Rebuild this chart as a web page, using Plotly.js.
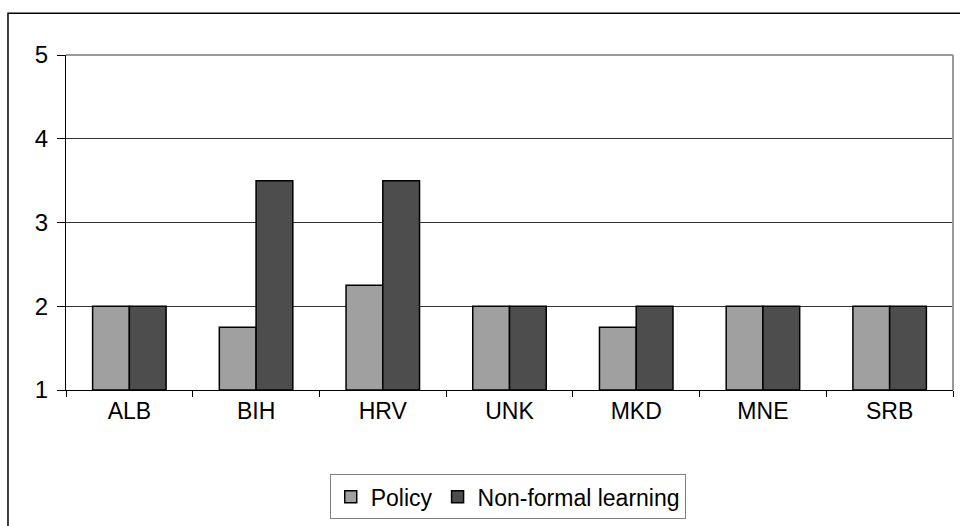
<!DOCTYPE html>
<html>
<head>
<meta charset="utf-8">
<script src="https://cdn.plot.ly/plotly-3.0.1.min.js"></script>
<style>html,body{margin:0;padding:0;background:#fff;}#chart{width:960px;height:526px;}</style>
</head>
<body>
<div id="chart"></div>
<script>
const categories = ["ALB", "BIH", "HRV", "UNK", "MKD", "MNE", "SRB"];
const policy = [2, 1.75, 2.25, 2, 1.75, 2, 2];
const nonFormal = [2, 3.5, 3.5, 2, 2, 2, 2];
const seriesNames = ["Policy", "Non-formal learning"];
const yTicks = [1, 2, 3, 4, 5];

const font = {family: "Liberation Sans, Arial, sans-serif", color: "#000"};
const traces = [
  {type: "bar", name: seriesNames[0], x: categories, y: policy.map(v => v - 1), base: 1,
   marker: {color: "#a0a0a0", line: {color: "#000", width: 1.5}}, hoverinfo: "skip"},
  {type: "bar", name: seriesNames[1], x: categories, y: nonFormal.map(v => v - 1), base: 1,
   marker: {color: "#4d4d4d", line: {color: "#000", width: 1.5}}, hoverinfo: "skip"}
];
const layout = {
  width: 960, height: 526,
  margin: {l: 66, r: 7, t: 55, b: 134},
  paper_bgcolor: "#fff", plot_bgcolor: "#fff",
  barmode: "group", bargap: 0.42, bargroupgap: 0,
  font: Object.assign({size: 23}, font),
  showlegend: true,
  legend: {orientation: "h", x: 0.498, xanchor: "center", y: -0.252, yanchor: "top",
           bgcolor: "#fff", bordercolor: "#808080", borderwidth: 1,
           font: Object.assign({size: 23}, font), itemwidth: 30, tracegroupgap: 0},
  xaxis: {type: "category", showline: true, linecolor: "#000", linewidth: 1,
          ticks: "outside", tickson: "boundaries", ticklen: 6, tickcolor: "#000",
          showgrid: false, tickfont: Object.assign({size: 23}, font), fixedrange: true,
          automargin: false},
  yaxis: {range: [1, 5], tickvals: yTicks, ticktext: yTicks.map(String),
          showline: true, linecolor: "#000", linewidth: 1,
          ticks: "outside", ticklen: 8, tickcolor: "#000", ticklabelstandoff: 4,
          showgrid: true, gridcolor: "#333", gridwidth: 1, zeroline: false,
          tickfont: Object.assign({size: 24}, font), fixedrange: true, automargin: false},
  shapes: [
    {type: "line", xref: "paper", yref: "paper", x0: 0, x1: 1, y0: 1, y1: 1,
     line: {color: "#999", width: 2}},
    {type: "line", xref: "paper", yref: "paper", x0: 1, x1: 1, y0: 0, y1: 1,
     line: {color: "#999", width: 2}},
    {type: "rect", xref: "paper", yref: "paper", x0: -0.0654, x1: 1.2, y0: -0.6, y1: 1.1246,
     line: {color: "#000", width: 1.5}, layer: "below"}
  ]
};
Plotly.newPlot("chart", traces, layout, {staticPlot: true, displayModeBar: false});
</script>
</body>
</html>
